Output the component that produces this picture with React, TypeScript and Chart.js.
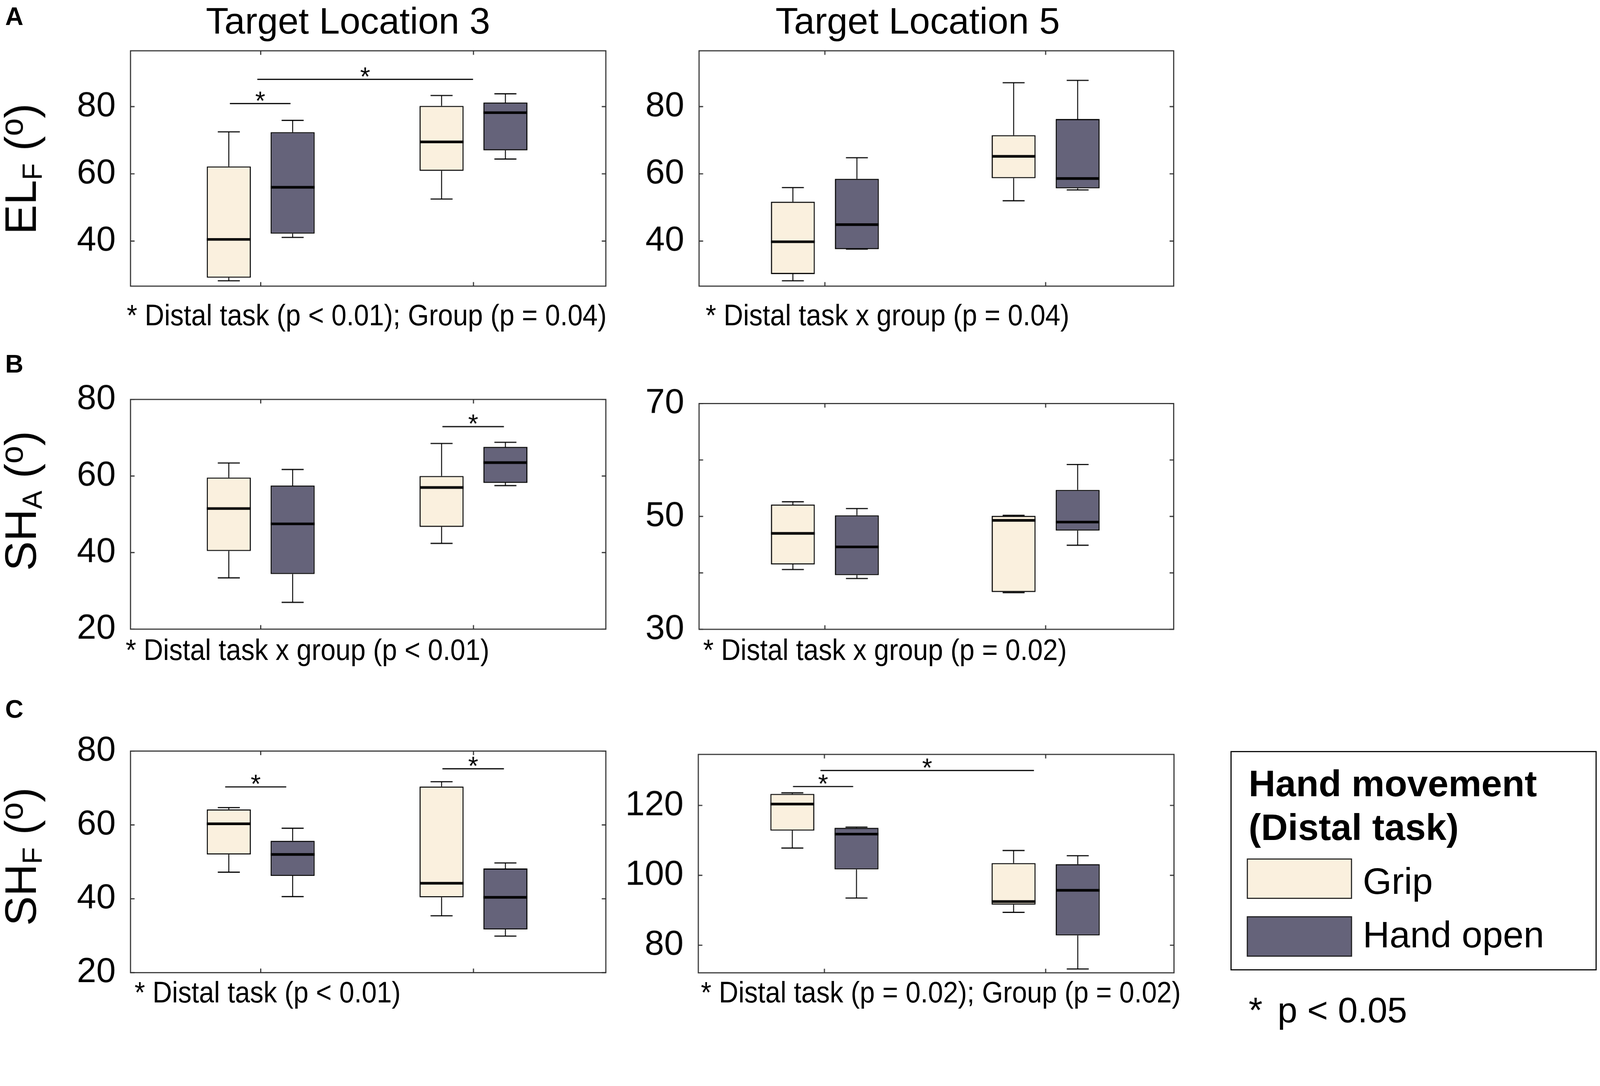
import React, { useEffect, useRef } from 'react';
import { Chart, registerables } from 'chart.js';

Chart.register(...registerables);

const FONT = '"Liberation Sans", Arial, Helvetica, sans-serif';
const GRIP_COLOR = '#FAF0DE';
const OPEN_COLOR = '#65637A';
const AXIS_COLOR = '#333333';

// ---------------- data ----------------
const GROUPS = [1, 2];
const SERIES = ['Grip', 'Hand open'];

// box statistics per group: [min, q1, median, q3, max]
const ELF_T3_GRIP = [[28.2, 29.1, 40.5, 62.2, 72.5], [52.5, 60.9, 69.5, 80.2, 83.3]];
const ELF_T3_OPEN = [[41.1, 42.2, 56.0, 72.4, 75.9], [64.4, 67.0, 78.2, 81.2, 83.8]];
const ELF_T5_GRIP = [[28.2, 30.2, 39.8, 51.7, 55.9], [52.0, 58.7, 65.2, 71.5, 87.1]];
const ELF_T5_OPEN = [[37.6, 37.6, 44.9, 58.5, 64.8], [55.2, 55.7, 58.6, 76.3, 87.8]];
const SHA_T3_GRIP = [[33.4, 40.4, 51.5, 59.6, 63.4], [42.4, 46.7, 57.0, 60.0, 68.5]];
const SHA_T3_OPEN = [[27.0, 34.4, 47.5, 57.5, 61.7], [57.5, 58.2, 63.5, 67.6, 68.8]];
const SHA_T5_GRIP = [[40.6, 41.5, 47.0, 52.1, 52.6], [36.5, 36.6, 49.3, 50.1, 50.2]];
const SHA_T5_OPEN = [[39.0, 39.6, 44.6, 50.2, 51.4], [44.9, 47.5, 49.0, 54.7, 59.2]];
const SHF_T3_GRIP = [[47.2, 52.0, 60.3, 64.2, 64.7], [35.4, 40.4, 44.2, 70.4, 71.7]];
const SHF_T3_OPEN = [[40.6, 46.2, 52.0, 55.7, 59.1], [29.9, 31.7, 40.4, 48.2, 49.7]];
const SHF_T5_GRIP = [[107.8, 112.8, 120.4, 123.3, 123.6], [89.4, 91.6, 92.5, 103.5, 107.1]];
const SHF_T5_OPEN = [[93.5, 101.7, 111.8, 113.6, 113.8], [73.2, 82.8, 95.7, 103.2, 105.6]];

// significance bars: [x from, x to, y level]
const ELF_T3_SIG = [[0.855, 1.14, 80.9], [0.984, 1.998, 88.1]];
const ELF_T5_SIG: number[][] = [];
const SHA_T3_SIG = [[1.854, 2.143, 72.9]];
const SHA_T5_SIG: number[][] = [];
const SHF_T3_SIG = [[0.833, 1.12, 70.3], [1.854, 2.143, 75.2]];
const SHF_T5_SIG = [[0.858, 1.13, 125.4], [0.982, 1.947, 130.0]];

// axes
const X_RANGE_LEFT = [0.388, 2.622];
const X_RANGE_RIGHT = [0.43, 2.58];
const ELF_YRANGE = [26.6, 96.6];
const ELF_TICKS = [40, 60, 80];
const SHA_T3_YRANGE = [20, 80];
const SHA_T3_TICKS = [20, 40, 60, 80];
const SHA_T5_YRANGE = [30, 70];
const SHA_T5_TICKS = [30, 40, 50, 60, 70];
const SHA_T5_TICK_LABELS = [30, 50, 70];
const SHF_T3_YRANGE = [20, 80];
const SHF_T3_TICKS = [20, 40, 60, 80];
const SHF_T5_YRANGE = [72.1, 134.6];
const SHF_T5_TICKS = [80, 100, 120];

// texts
const PANEL_LETTERS = ['A', 'B', 'C'];
const COLUMN_TITLES = ['Target Location 3', 'Target Location 5'];
const Y_TITLES = [['EL', 'F'], ['SH', 'A'], ['SH', 'F']];
const NOTES = [
  '* Distal task (p < 0.01); Group (p = 0.04)',
  '* Distal task x group (p = 0.04)',
  '* Distal task x group (p < 0.01)',
  '* Distal task x group (p = 0.02)',
  '* Distal task (p < 0.01)',
  '* Distal task (p = 0.02); Group (p = 0.02)',
];
const LEGEND_TITLE = ['Hand movement', '(Distal task)'];
const SIG_NOTE = ['*', 'p < 0.05'];

// ---------------- layout ----------------
const PAGE_W = 4317;
const PAGE_H = 2781;
const AXIS_W = 230;
const PAD_T = 110;
const PAD_B = 110;
const PAD_R = 20;
const TICK = 11;

type Rect = { x: number; y: number; w: number; h: number };
type Panel = {
  rect: Rect;
  xRange: number[];
  yRange: number[];
  yTicks: number[];
  yLabels: number[];
  grip: number[][];
  open: number[][];
  sig: number[][];
  catPct: number;
  barPct: number;
};

const PANELS: Panel[] = [
  { rect: { x: 352, y: 137, w: 1282, h: 635 }, xRange: X_RANGE_LEFT, yRange: ELF_YRANGE, yTicks: ELF_TICKS, yLabels: ELF_TICKS, grip: ELF_T3_GRIP, open: ELF_T3_OPEN, sig: ELF_T3_SIG, catPct: 0.6, barPct: 0.69 },
  { rect: { x: 1886, y: 137, w: 1280, h: 635 }, xRange: X_RANGE_RIGHT, yRange: ELF_YRANGE, yTicks: ELF_TICKS, yLabels: ELF_TICKS, grip: ELF_T5_GRIP, open: ELF_T5_OPEN, sig: ELF_T5_SIG, catPct: 0.58, barPct: 0.685 },
  { rect: { x: 352, y: 1078, w: 1282, h: 620 }, xRange: X_RANGE_LEFT, yRange: SHA_T3_YRANGE, yTicks: SHA_T3_TICKS, yLabels: SHA_T3_TICKS, grip: SHA_T3_GRIP, open: SHA_T3_OPEN, sig: SHA_T3_SIG, catPct: 0.6, barPct: 0.69 },
  { rect: { x: 1886, y: 1089, w: 1280, h: 609 }, xRange: X_RANGE_RIGHT, yRange: SHA_T5_YRANGE, yTicks: SHA_T5_TICKS, yLabels: SHA_T5_TICK_LABELS, grip: SHA_T5_GRIP, open: SHA_T5_OPEN, sig: SHA_T5_SIG, catPct: 0.58, barPct: 0.685 },
  { rect: { x: 352, y: 2027, w: 1282, h: 598 }, xRange: X_RANGE_LEFT, yRange: SHF_T3_YRANGE, yTicks: SHF_T3_TICKS, yLabels: SHF_T3_TICKS, grip: SHF_T3_GRIP, open: SHF_T3_OPEN, sig: SHF_T3_SIG, catPct: 0.6, barPct: 0.69 },
  { rect: { x: 1884, y: 2036, w: 1283, h: 589 }, xRange: X_RANGE_RIGHT, yRange: SHF_T5_YRANGE, yTicks: SHF_T5_TICKS, yLabels: SHF_T5_TICKS, grip: SHF_T5_GRIP, open: SHF_T5_OPEN, sig: SHF_T5_SIG, catPct: 0.58, barPct: 0.685 },
];

function makeDecor(p: Panel) {
  return {
    id: 'boxDecor',
    afterDatasetsDraw(chart: any) {
      const ctx = chart.ctx;
      const xs = chart.scales.x;
      const ys = chart.scales.y;
      const stats = [p.grip, p.open];
      ctx.save();
      ctx.strokeStyle = '#000';
      ctx.lineCap = 'butt';
      stats.forEach((st, di) => {
        const meta = chart.getDatasetMeta(di);
        meta.data.forEach((el: any, i: number) => {
          const { x, width } = el.getProps(['x', 'width'], true);
          const s = st[i];
          const yMin = ys.getPixelForValue(s[0]);
          const yQ1 = ys.getPixelForValue(s[1]);
          const yMed = ys.getPixelForValue(s[2]);
          const yQ3 = ys.getPixelForValue(s[3]);
          const yMax = ys.getPixelForValue(s[4]);
          const half = width / 2;
          const cap = width * 0.25;
          ctx.lineWidth = 2.5;
          ctx.beginPath();
          ctx.moveTo(x, yQ3);
          ctx.lineTo(x, yMax);
          ctx.moveTo(x, yQ1);
          ctx.lineTo(x, yMin);
          ctx.stroke();
          ctx.lineWidth = 3;
          ctx.beginPath();
          ctx.moveTo(x - cap, yMax);
          ctx.lineTo(x + cap, yMax);
          ctx.moveTo(x - cap, yMin);
          ctx.lineTo(x + cap, yMin);
          ctx.stroke();
          ctx.lineWidth = 7;
          ctx.beginPath();
          ctx.moveTo(x - half, yMed);
          ctx.lineTo(x + half, yMed);
          ctx.stroke();
        });
      });
      ctx.lineWidth = 3;
      ctx.fillStyle = '#000';
      ctx.font = `70px ${FONT}`;
      ctx.textAlign = 'center';
      ctx.textBaseline = 'alphabetic';
      p.sig.forEach(([a, b, v]) => {
        const x1 = xs.getPixelForValue(a);
        const x2 = xs.getPixelForValue(b);
        const y = ys.getPixelForValue(v);
        ctx.beginPath();
        ctx.moveTo(x1, y);
        ctx.lineTo(x2, y);
        ctx.stroke();
        ctx.fillText('*', (x1 + x2) / 2, y + 16);
      });
      ctx.restore();
    },
    afterDraw(chart: any) {
      const ctx = chart.ctx;
      const xs = chart.scales.x;
      const ys = chart.scales.y;
      const { left, right, top, bottom } = chart.chartArea;
      ctx.save();
      ctx.strokeStyle = AXIS_COLOR;
      ctx.lineWidth = 3;
      ctx.strokeRect(left, top, right - left, bottom - top);
      ctx.beginPath();
      ys.ticks.forEach((t: any) => {
        const y = ys.getPixelForValue(t.value);
        ctx.moveTo(left, y);
        ctx.lineTo(left + TICK, y);
        ctx.moveTo(right, y);
        ctx.lineTo(right - TICK, y);
      });
      xs.ticks.forEach((t: any) => {
        const x = xs.getPixelForValue(t.value);
        ctx.moveTo(x, top);
        ctx.lineTo(x, top + TICK);
        ctx.moveTo(x, bottom);
        ctx.lineTo(x, bottom - TICK);
      });
      ctx.stroke();
      ctx.restore();
    },
  };
}

function BoxChart({ p, dpr }: { p: Panel; dpr: number }) {
  const ref = useRef<HTMLCanvasElement>(null);
  const W = AXIS_W + p.rect.w + PAD_R;
  const H = PAD_T + p.rect.h + PAD_B;
  useEffect(() => {
    const canvas = ref.current;
    if (!canvas) return;
    const mk = (stats: number[][], label: string, color: string) => ({
      label,
      data: stats.map((s, i) => ({ x: GROUPS[i], y: [s[1], s[3]] })),
      backgroundColor: color,
      borderColor: '#000',
      borderWidth: 3,
      borderSkipped: false,
      categoryPercentage: p.catPct,
      barPercentage: p.barPct,
    });
    const chart = new Chart(canvas, {
      type: 'bar',
      data: {
        datasets: [mk(p.grip, SERIES[0], GRIP_COLOR), mk(p.open, SERIES[1], OPEN_COLOR)] as any,
      },
      options: {
        animation: false,
        responsive: false,
        maintainAspectRatio: false,
        devicePixelRatio: dpr,
        events: [],
        layout: { padding: { left: 0, right: PAD_R, top: PAD_T, bottom: PAD_B } },
        plugins: { legend: { display: false }, tooltip: { enabled: false }, title: { display: false } },
        scales: {
          x: {
            type: 'linear',
            display: false,
            min: p.xRange[0],
            max: p.xRange[1],
            offset: false,
            grid: { display: false, offset: false },
            afterBuildTicks: (s: any) => {
              s.ticks = GROUPS.map((v) => ({ value: v }));
            },
          },
          y: {
            type: 'linear',
            min: p.yRange[0],
            max: p.yRange[1],
            beginAtZero: false,
            grid: { display: false, drawTicks: false },
            border: { display: false },
            afterBuildTicks: (s: any) => {
              s.ticks = p.yTicks.map((v) => ({ value: v }));
            },
            afterFit: (s: any) => {
              s.width = AXIS_W;
            },
            ticks: {
              padding: 40,
              color: '#000',
              font: { family: FONT, size: 94, lineHeight: 1 },
              autoSkip: false,
              callback: (v: any) => (p.yLabels.includes(Number(v)) ? String(v) : ''),
            },
          },
        },
      } as any,
      plugins: [makeDecor(p)],
    });
    return () => chart.destroy();
  }, []);
  return (
    <div style={{ position: 'absolute', left: p.rect.x - AXIS_W, top: p.rect.y - PAD_T, width: W, height: H }}>
      <canvas ref={ref} width={W} height={H} style={{ width: W, height: H, display: 'block' }} />
    </div>
  );
}

function Txt({ x, base, size, bold = false, center = false, sx = 1, children }: any) {
  return (
    <div
      style={{
        position: 'absolute',
        left: x,
        top: base - 0.8465 * size,
        fontFamily: FONT,
        fontSize: size,
        lineHeight: 1,
        fontWeight: bold ? 700 : 400,
        whiteSpace: 'nowrap',
        color: '#000',
        transform: center ? 'translateX(-50%)' : `scaleX(${sx})`,
        transformOrigin: 'left top',
      }}
    >
      {children}
    </div>
  );
}

function YTitle({ cx, cy, main, sub }: any) {
  return (
    <div
      style={{
        position: 'absolute',
        left: cx,
        top: cy,
        transform: 'translate(-50%, -50%) rotate(-90deg)',
        fontFamily: FONT,
        fontSize: 120,
        lineHeight: 1,
        whiteSpace: 'nowrap',
        color: '#000',
      }}
    >
      {main}
      <span style={{ fontSize: '0.62em', position: 'relative', top: '0.22em' }}>{sub}</span>
      {' ('}
      <span style={{ fontSize: '0.72em', position: 'relative', top: '-0.42em' }}>o</span>
      {')'}
    </div>
  );
}

const LETTER_BASES = [67, 1006, 1937];
const Y_TITLE_CENTERS = [456, 1352, 2312];
const NOTE_POS = [
  [342, 879],
  [1904, 879],
  [339, 1782],
  [1897, 1782],
  [363, 2706],
  [1891, 2706],
];

function pageScale() {
  if (typeof window === 'undefined') return 1;
  const w = document.documentElement.clientWidth || window.innerWidth || PAGE_W;
  return w / PAGE_W;
}

export default function App() {
  const s = pageScale();
  const dpr = (typeof window !== 'undefined' ? window.devicePixelRatio || 1 : 1) * s;
  return (
    <div style={{ position: 'absolute', left: 0, top: 0, width: PAGE_W * s, height: PAGE_H * s, overflow: 'hidden', background: '#fff' }}>
      <div
        style={{
          position: 'absolute',
          left: 0,
          top: 0,
          width: PAGE_W,
          height: PAGE_H,
          background: '#fff',
          transform: `scale(${s})`,
          transformOrigin: '0 0',
        }}
      >
        {PANELS.map((p, i) => (
          <BoxChart key={i} p={p} dpr={dpr} />
        ))}
        {PANEL_LETTERS.map((l, i) => (
          <Txt key={l} x={14} base={LETTER_BASES[i]} size={68} bold>
            {l}
          </Txt>
        ))}
        <Txt x={939} base={91} size={100} center>
          {COLUMN_TITLES[0]}
        </Txt>
        <Txt x={2476} base={91} size={100} center>
          {COLUMN_TITLES[1]}
        </Txt>
        {Y_TITLES.map((t, i) => (
          <YTitle key={i} cx={55} cy={Y_TITLE_CENTERS[i]} main={t[0]} sub={t[1]} />
        ))}
        {NOTES.map((n, i) => (
          <Txt key={i} x={NOTE_POS[i][0]} base={NOTE_POS[i][1]} size={80} sx={0.91}>
            {n}
          </Txt>
        ))}
        {/* legend */}
        <div style={{ position: 'absolute', left: 3320, top: 2027, width: 988, height: 592, border: '3px solid #000', boxSizing: 'border-box' }} />
        <Txt x={3369} base={2149} size={100} bold>
          {LEGEND_TITLE[0]}
        </Txt>
        <Txt x={3369} base={2267} size={100} bold>
          {LEGEND_TITLE[1]}
        </Txt>
        <div style={{ position: 'absolute', left: 3364, top: 2317, width: 284, height: 109, background: GRIP_COLOR, border: '3px solid #222', boxSizing: 'border-box' }} />
        <div style={{ position: 'absolute', left: 3364, top: 2473, width: 284, height: 109, background: OPEN_COLOR, border: '3px solid #222', boxSizing: 'border-box' }} />
        <Txt x={3677} base={2413} size={100}>
          {SERIES[0]}
        </Txt>
        <Txt x={3677} base={2557} size={100}>
          {SERIES[1]}
        </Txt>
        <Txt x={3369} base={2759} size={96}>
          {SIG_NOTE[0]}
        </Txt>
        <Txt x={3447} base={2759} size={96}>
          {SIG_NOTE[1]}
        </Txt>
      </div>
    </div>
  );
}
